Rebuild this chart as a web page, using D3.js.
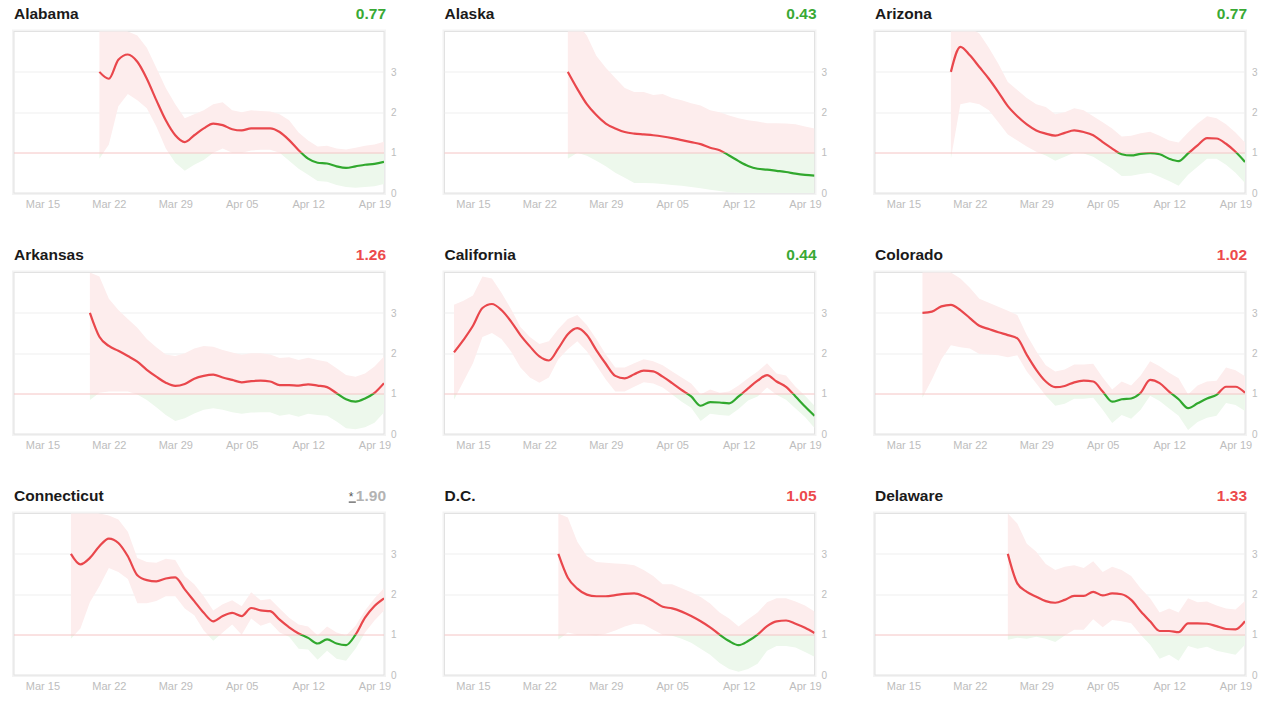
<!DOCTYPE html>
<html><head><meta charset="utf-8">
<script src="https://cdn.jsdelivr.net/npm/d3@7"></script>
<style>
body{margin:0;background:#fff;font-family:"Liberation Sans",Arial,sans-serif;}
svg{display:block;}
</style></head><body>
<svg id="c" width="1280" height="714"></svg>
<script>
// ---- data ----
const states = ["Alabama","Alaska","Arizona","Arkansas","California","Colorado","Connecticut","D.C.","Delaware"];
const latest = ["0.77","0.43","0.77","1.26","0.44","1.02","1.90","1.05","1.33"];
const latestStatus = ["low","low","low","high","low","high","flag","high","high"];
const firstDay = [9,13,8,8,1,5,6,12,14]; // days after Mar 12, 2020
const tickLabels = ["Mar 15","Mar 22","Mar 29","Apr 05","Apr 12","Apr 19"];
const yTicks = [0,1,2,3];

const alabamaRt = [3.0,2.83,3.3,3.43,3.25,2.83,2.3,1.8,1.43,1.26,1.43,1.6,1.72,1.68,1.58,1.55,1.6,1.6,1.6,1.51,1.31,1.06,0.85,0.75,0.73,0.66,0.62,0.66,0.7,0.72,0.77];
const alabamaHi = [4.5,4.5,4.3,4.0,3.9,3.6,3.1,2.6,2.2,1.85,1.95,2.05,2.2,2.25,2.05,2.0,2.05,2.03,2.02,1.95,1.8,1.5,1.3,1.15,1.17,1.1,1.08,1.12,1.17,1.2,1.27];
const alabamaLo = [0.85,1.2,2.15,2.45,2.3,2.1,1.65,1.1,0.75,0.55,0.7,0.82,1.0,1.1,1.0,1.0,1.05,1.07,1.07,1.0,0.8,0.6,0.45,0.3,0.28,0.2,0.15,0.13,0.15,0.17,0.22];

const alaskaRt = [3.0,2.58,2.2,1.93,1.72,1.6,1.51,1.47,1.45,1.43,1.4,1.36,1.31,1.26,1.21,1.12,1.06,0.93,0.79,0.67,0.6,0.58,0.55,0.52,0.48,0.45,0.43];
const alaskaHi = [5.0,4.2,3.9,3.4,3.1,2.85,2.6,2.5,2.5,2.43,2.45,2.35,2.3,2.22,2.17,2.05,2.0,1.92,1.85,1.8,1.77,1.73,1.73,1.72,1.7,1.65,1.6];
const alaskaLo = [0.85,1.0,0.92,0.8,0.66,0.5,0.38,0.25,0.25,0.24,0.22,0.2,0.18,0.15,0.12,0.08,0.05,0.02,0,0,0,0,0,0,0,0,0];

const arizonaRt = [3.0,3.62,3.41,3.12,2.83,2.5,2.15,1.9,1.7,1.55,1.47,1.42,1.49,1.55,1.51,1.43,1.26,1.1,0.96,0.93,0.97,0.99,0.96,0.85,0.79,0.98,1.18,1.36,1.35,1.22,1.02,0.77];
const arizonaHi = [4.5,4.3,4.1,3.95,3.6,3.2,2.75,2.55,2.35,2.2,2.13,1.95,2.0,2.1,2.05,1.9,1.75,1.6,1.4,1.42,1.48,1.52,1.42,1.3,1.25,1.5,1.72,1.9,1.85,1.7,1.5,1.25];
const arizonaLo = [0.85,2.2,2.25,2.2,2.05,1.75,1.45,1.3,1.15,1.02,0.93,0.8,0.9,1.0,0.98,0.9,0.75,0.6,0.42,0.43,0.47,0.5,0.4,0.3,0.18,0.45,0.65,0.85,0.85,0.7,0.5,0.25];

const arkansasRt = [3.0,2.41,2.18,2.06,1.93,1.79,1.59,1.42,1.27,1.19,1.24,1.37,1.44,1.47,1.4,1.34,1.28,1.31,1.32,1.3,1.21,1.21,1.2,1.23,1.2,1.16,1.01,0.86,0.8,0.88,1.02,1.26];
const arkansasHi = [4.0,3.9,3.35,3.07,2.85,2.63,2.35,2.15,1.97,1.93,2.0,2.12,2.18,2.16,2.08,2.02,1.96,2.0,2.0,1.97,1.88,1.9,1.83,1.89,1.83,1.79,1.63,1.46,1.42,1.5,1.67,1.92];
const arkansasLo = [0.84,1.02,1.05,1.05,1.05,0.98,0.84,0.66,0.47,0.32,0.39,0.51,0.6,0.64,0.6,0.54,0.5,0.53,0.54,0.54,0.45,0.49,0.43,0.5,0.47,0.45,0.31,0.14,0.12,0.17,0.28,0.53];

const californiaRt = [2.02,2.33,2.68,3.12,3.22,3.07,2.79,2.45,2.17,1.92,1.82,2.12,2.47,2.62,2.45,2.08,1.74,1.44,1.38,1.48,1.57,1.55,1.42,1.26,1.09,0.93,0.7,0.79,0.78,0.76,0.93,1.13,1.32,1.46,1.3,1.17,0.93,0.68,0.45];
const californiaHi = [3.2,3.3,3.43,3.9,3.85,3.5,3.1,2.65,2.4,2.23,2.3,2.6,2.85,2.95,2.7,2.35,1.97,1.65,1.65,1.75,1.85,1.8,1.7,1.55,1.4,1.25,0.98,1.1,1.02,1.05,1.2,1.38,1.55,1.75,1.5,1.45,1.17,0.95,0.7];
const californiaLo = [0.85,1.3,1.75,2.4,2.5,2.35,2.05,1.65,1.4,1.27,1.4,1.85,2.1,2.3,2.05,1.7,1.35,1.05,1.05,1.17,1.28,1.25,1.15,0.98,0.8,0.65,0.32,0.5,0.47,0.45,0.62,0.83,0.93,1.15,0.97,0.85,0.63,0.42,0.15];

const coloradoRt = [3.0,3.03,3.16,3.2,3.07,2.87,2.68,2.6,2.52,2.45,2.37,1.96,1.59,1.3,1.16,1.19,1.28,1.32,1.3,1.05,0.8,0.86,0.88,1.02,1.34,1.26,1.05,0.86,0.64,0.76,0.88,0.97,1.17,1.17,1.02];
const coloradoHi = [4.2,4.3,4.1,4.0,3.85,3.62,3.35,3.25,3.15,3.05,2.95,2.45,2.05,1.7,1.55,1.6,1.72,1.72,1.74,1.4,1.1,1.3,1.2,1.45,1.8,1.68,1.52,1.38,0.98,1.2,1.3,1.32,1.65,1.58,1.43];
const coloradoLo = [0.9,1.35,1.85,2.2,2.15,2.12,1.98,1.97,1.95,1.9,1.95,1.55,1.25,0.95,0.7,0.75,0.87,0.87,0.9,0.6,0.27,0.47,0.38,0.6,0.95,0.82,0.63,0.45,0.1,0.3,0.4,0.45,0.77,0.72,0.57];

const connecticutRt = [3.0,2.74,2.9,3.19,3.38,3.27,2.94,2.47,2.35,2.32,2.39,2.42,2.12,1.83,1.54,1.33,1.46,1.54,1.46,1.66,1.6,1.58,1.37,1.18,1.03,0.92,0.78,0.88,0.78,0.74,1.0,1.42,1.71,1.9];
const connecticutHi = [4.1,4.1,4.1,4.0,3.95,3.85,3.55,2.9,2.8,2.78,2.88,2.85,2.45,2.25,1.95,1.6,1.75,1.85,1.7,2.05,1.85,1.88,1.65,1.42,1.25,1.2,0.98,1.2,1.05,0.98,1.22,1.6,1.9,2.15];
const connecticutLo = [0.9,1.15,1.8,2.2,2.65,2.55,2.38,1.78,1.78,1.83,1.95,1.95,1.65,1.48,1.1,0.85,1.05,1.25,1.0,1.4,1.22,1.3,1.05,0.95,0.65,0.63,0.38,0.6,0.4,0.35,0.65,1.05,1.35,1.6];

const dcRt = [3.0,2.41,2.14,1.99,1.95,1.95,1.98,2.01,2.02,1.95,1.83,1.69,1.65,1.57,1.46,1.33,1.18,1.0,0.84,0.74,0.84,1.0,1.21,1.33,1.35,1.27,1.17,1.04];
const dcHi = [4.0,3.9,3.3,2.95,2.8,2.78,2.76,2.75,2.72,2.6,2.45,2.25,2.25,2.15,2.05,1.93,1.77,1.55,1.4,1.2,1.38,1.55,1.8,1.9,1.9,1.82,1.72,1.57];
const dcLo = [0.88,1.05,1.0,1.0,0.98,1.02,1.1,1.2,1.27,1.25,1.12,1.0,0.97,0.9,0.8,0.65,0.5,0.3,0.15,0.08,0.15,0.28,0.6,0.72,0.72,0.68,0.57,0.45];

const delawareRt = [3.0,2.27,2.06,1.94,1.83,1.79,1.86,1.96,1.96,2.06,1.97,2.02,2.0,1.86,1.58,1.33,1.09,1.09,1.06,1.28,1.28,1.27,1.21,1.14,1.13,1.33];
const delawareHi = [4.0,3.75,3.25,3.05,2.75,2.6,2.68,2.72,2.65,2.82,2.55,2.68,2.6,2.45,2.15,1.9,1.55,1.65,1.55,1.9,1.8,1.82,1.72,1.65,1.62,1.83];
const delawareLo = [0.87,0.92,0.9,0.95,0.9,0.82,0.98,1.12,1.12,1.38,1.18,1.36,1.33,1.28,1.0,0.75,0.4,0.5,0.35,0.72,0.65,0.7,0.6,0.55,0.5,0.75];

const rtSeries = [alabamaRt,alaskaRt,arizonaRt,arkansasRt,californiaRt,coloradoRt,connecticutRt,dcRt,delawareRt];
const hiSeries = [alabamaHi,alaskaHi,arizonaHi,arkansasHi,californiaHi,coloradoHi,connecticutHi,dcHi,delawareHi];
const loSeries = [alabamaLo,alaskaLo,arizonaLo,arkansasLo,californiaLo,coloradoLo,connecticutLo,dcLo,delawareLo];

// ---- drawing ----
const svg = d3.select("#c");
const colW = 430.5, rowH = 241;
const boxX = 14, boxY = 31.5, W = 370, H = 161.5;
const RED = "#e9474c", GREEN = "#31a82e";
const RED_BAND = "#fdeded", GREEN_BAND = "#edf8ec";
const t0 = new Date(2020, 2, 12);
const dayMs = 86400000;
const x = d3.scaleTime().domain([t0, new Date(2020, 3, 20)]).range([0, W]);
const y = d3.scaleLinear().domain([0, 4]).range([H, 0]);
const parse = d3.timeParse("%b %d %Y");
const tickDates = tickLabels.map(s => parse(s + " 2020"));

states.forEach((name, i) => {
  const col = i % 3, row = Math.floor(i / 3);
  const g = svg.append("g").attr("transform", `translate(${col*colW},${row*rowH})`);
  const data = rtSeries[i].map((v, k) => ({
    date: new Date(t0.getTime() + (firstDay[i] + k) * dayMs),
    rt: v, hi: hiSeries[i][k], lo: loSeries[i][k]
  }));

  // title
  g.append("text").attr("x", boxX).attr("y", 18.5)
    .attr("font-size", 15.5).attr("font-weight", "bold").attr("fill", "#1a1a1a").text(name);
  const val = g.append("text").attr("x", boxX + W + 2).attr("y", 18.5).attr("text-anchor", "end")
    .attr("font-size", 15.5).attr("font-weight", "bold");
  if (latestStatus[i] === "flag") {
    val.append("tspan").attr("fill", "#555").attr("font-size", 12).attr("font-weight", "normal")
      .attr("text-decoration", "underline").text("*\u2009");
    val.append("tspan").attr("fill", "#b3b3b3").text(latest[i]);
  } else {
    val.attr("fill", latestStatus[i] === "low" ? "#39a935" : "#ec4a4c").text(latest[i]);
  }

  const p = g.append("g").attr("transform", `translate(${boxX},${boxY})`);
  // box
  p.append("rect").attr("x", -0.5).attr("y", -0.5).attr("width", W + 1).attr("height", H + 1)
    .attr("fill", "#fff").attr("stroke", "#f3f3f3").attr("stroke-width", 3);
  p.append("rect").attr("x", 0).attr("y", 0).attr("width", W).attr("height", H)
    .attr("fill", "#fff").attr("stroke", "#e2e2e2").attr("stroke-width", 1);

  // gridlines
  [2, 3].forEach(v => p.append("line").attr("x1", 0).attr("x2", W)
    .attr("y1", Math.round(y(v)) + 0.5).attr("y2", Math.round(y(v)) + 0.5)
    .attr("stroke", "#efefef"));

  // clip paths
  const idA = "ca" + i, idB = "cb" + i;
  const defs = p.append("defs");
  defs.append("clipPath").attr("id", idA).append("rect")
    .attr("x", 0).attr("y", 0).attr("width", W).attr("height", y(1));
  defs.append("clipPath").attr("id", idB).append("rect")
    .attr("x", 0).attr("y", y(1)).attr("width", W).attr("height", H - y(1));

  const area = d3.area().x(d => x(d.date)).y0(d => y(d.lo)).y1(d => y(d.hi)).curve(d3.curveLinear);
  const line = d3.line().x(d => x(d.date)).y(d => y(d.rt)).curve(d3.curveMonotoneX);

  p.append("path").datum(data).attr("d", area).attr("fill", RED_BAND).attr("clip-path", `url(#${idA})`);
  p.append("path").datum(data).attr("d", area).attr("fill", GREEN_BAND).attr("clip-path", `url(#${idB})`);

  // reference line at 1
  p.append("line").attr("x1", 0).attr("x2", W)
    .attr("y1", Math.round(y(1)) + 0.5).attr("y2", Math.round(y(1)) + 0.5)
    .attr("stroke", "#f5c4c4");

  p.append("path").datum(data).attr("d", line).attr("fill", "none").attr("stroke", RED)
    .attr("stroke-width", 2.2).attr("clip-path", `url(#${idA})`);
  p.append("path").datum(data).attr("d", line).attr("fill", "none").attr("stroke", GREEN)
    .attr("stroke-width", 2.2).attr("clip-path", `url(#${idB})`);

  // axes
  const xa = p.append("g").attr("transform", `translate(0,${H})`)
    .call(d3.axisBottom(x).tickValues(tickDates).tickFormat(d3.timeFormat("%b %d")).tickSize(0).tickPadding(7));
  xa.select(".domain").remove();
  xa.selectAll("text").attr("fill", "#bdbdbd").attr("font-size", 11).attr("font-family", "Liberation Sans, Arial, sans-serif");

  const ya = p.append("g").attr("transform", `translate(${W},0)`)
    .call(d3.axisRight(y).tickValues(yTicks).tickFormat(d3.format("d")).tickSize(0).tickPadding(7));
  ya.select(".domain").remove();
  ya.selectAll("text").attr("fill", "#bdbdbd").attr("font-size", 10).attr("font-family", "Liberation Sans, Arial, sans-serif");
});
</script>
</body></html>
